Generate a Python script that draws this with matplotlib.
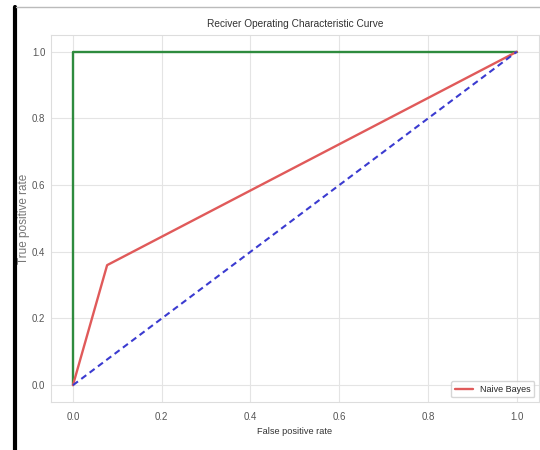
import matplotlib
matplotlib.use("Agg")
import matplotlib.pyplot as plt
from matplotlib.lines import Line2D
import seaborn as sns

# ROC points
nb_fpr = [0.0, 0.077, 1.0]
nb_tpr = [0.0, 0.36, 1.0]
perfect_fpr = [0.0, 0.0, 1.0]
perfect_tpr = [0.0, 1.0, 1.0]
chance = [0.0, 1.0]
ticks = [0.0, 0.2, 0.4, 0.6, 0.8, 1.0]

sns.set_style("whitegrid", {'grid.color': '#e4e4e4'})
plt.rcParams['font.family'] = ['Liberation Sans', 'DejaVu Sans']

fig = plt.figure(figsize=(5.4, 4.5), dpi=100)
ax = fig.add_axes([0.094, 0.107, 0.904, 0.815])

ax.plot(perfect_fpr, perfect_tpr, color='#2e8b3e', linewidth=1.7)
ax.plot(nb_fpr, nb_tpr, color='#e05a5a', linewidth=1.7, label='Naive Bayes')
ax.plot(chance, chance, color='#3b3bd0', linestyle=(0, (3, 2)), linewidth=1.5)

ax.set_xticks(ticks)
ax.set_yticks(ticks)
ax.tick_params(labelsize=7, colors='#555555')
ax.tick_params(axis='y', pad=0.5)
ax.set_title("Reciver Operating Characteristic Curve", fontsize=7.3, color='#333333')
ax.set_xlabel("False positive rate", fontsize=6.6, color='#333333')
ax.set_ylabel("True positive rate", fontsize=8.5, color='#777777')
ax.yaxis.set_label_coords(-0.042, 0.5)
ax.legend(loc='lower right', fontsize=6.5, frameon=True)
for s in ax.spines.values():
    s.set_color('#dddddd')

# screenshot border
fig.add_artist(Line2D([0.027, 0.027], [0.0, 0.985], color='black', linewidth=3))
fig.add_artist(Line2D([0.03, 1.0], [0.985, 0.985], color='#bbbbbb', linewidth=1))

fig.savefig("out.png", dpi=100)
